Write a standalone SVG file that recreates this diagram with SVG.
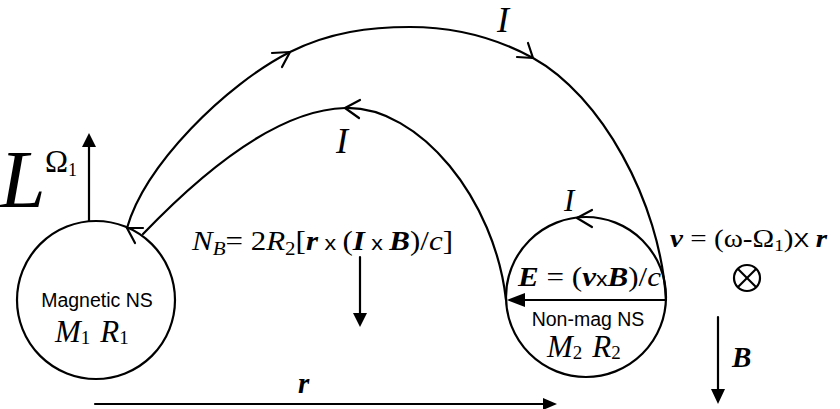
<svg xmlns="http://www.w3.org/2000/svg" width="840" height="409" viewBox="0 0 840 409">
<style>
.ln{fill:none;stroke:#000;stroke-width:2.2;stroke-linecap:round;stroke-linejoin:round}
.hd{fill:#000;stroke:none}
.ser{font-family:"Liberation Serif","Times New Roman",serif;fill:#000}
.it{font-style:italic}
.bi{font-style:italic;font-weight:bold}
.sans{font-family:"Liberation Sans",Arial,sans-serif;fill:#000}
</style>
<rect width="840" height="409" fill="#fff"/>
<g id="connectors">
  <path class="ln" d="M127,228 C145,165 225,85 290,52 C330,32 370,27 410,27 C460,27 500,40 533,58 C600,95 660,200 666,300"/>
  <path class="ln" d="M143,234 C190,185 270,110 345,108 C420,106 495,200 506,300"/>
  <polyline class="ln" points="272,53 290,52 282,67"/>
  <polyline class="ln" points="517,57 533,58 528,43"/>
  <polyline class="ln" points="360,100 345,108 359,118"/>
  <polyline class="ln" points="143,228 127,228 135,243"/>
  <polyline class="ln" points="592,210 577,218 592,227"/>
</g>
<g id="magnetic-ns">
  <circle class="ln" cx="96" cy="300" r="79"/>
  <text class="sans" x="97" y="307" font-size="19.5" text-anchor="middle">Magnetic NS</text>
  <text class="ser it" x="55" y="342" font-size="31">M<tspan font-size="19" font-style="normal" dy="2">1</tspan><tspan dx="10" dy="-2">R</tspan><tspan font-size="19" font-style="normal" dy="2">1</tspan></text>
</g>
<g id="nonmag-ns">
  <circle class="ln" cx="586" cy="297" r="80"/>
  <text class="sans" x="588" y="326" font-size="19.5" text-anchor="middle">Non-mag NS</text>
  <text class="ser it" x="547" y="357" font-size="31">M<tspan font-size="19" font-style="normal" dy="2">2</tspan><tspan dx="10" dy="-2">R</tspan><tspan font-size="19" font-style="normal" dy="2">2</tspan></text>
  <line class="ln" x1="666" y1="300" x2="522" y2="300"/>
  <polygon class="hd" points="507,300 525,293 525,307"/>
  <text class="ser" x="518" y="286" font-size="27" textLength="143" lengthAdjust="spacingAndGlyphs"><tspan class="bi">E</tspan> = (<tspan class="bi">v</tspan><tspan class="sans" font-size="20">x</tspan><tspan class="bi">B</tspan>)/<tspan class="it">c</tspan></text>
</g>
<g id="omega">
  <line class="ln" x1="89" y1="221" x2="89" y2="145"/>
  <polygon class="hd" points="89,133 82,147 96,147"/>
  <text class="ser" x="45" y="172" font-size="31">Ω<tspan font-size="18" dy="4">1</tspan></text>
</g>
<text class="ser it" x="0" y="207" font-size="82">L</text>
<text class="ser it" x="497" y="32" font-size="36">I</text>
<text class="ser it" x="336" y="153" font-size="36">I</text>
<text class="ser it" x="564" y="211" font-size="31">I</text>
<g id="torque">
  <text class="ser" x="192" y="250" font-size="28" textLength="261" lengthAdjust="spacingAndGlyphs"><tspan class="it">N</tspan><tspan class="it" font-size="19" dy="5">B</tspan><tspan dy="-5">= 2</tspan><tspan class="it">R</tspan><tspan font-size="19" dy="5">2</tspan><tspan dy="-5">[</tspan><tspan class="bi">r</tspan><tspan class="sans" font-size="21"> x </tspan>(<tspan class="bi">I</tspan><tspan class="sans" font-size="21"> x </tspan><tspan class="bi">B</tspan>)/<tspan class="it">c</tspan>]</text>
  <line class="ln" x1="360" y1="257" x2="360" y2="315"/>
  <polygon class="hd" points="360,327 353,313 367,313"/>
</g>
<g id="velocity">
  <text class="ser" x="670" y="247" font-size="26" textLength="157" lengthAdjust="spacingAndGlyphs"><tspan class="bi">v</tspan> = (ω-Ω<tspan font-size="17" dy="4">1</tspan><tspan dy="-4">)</tspan><tspan class="sans" font-size="21">X </tspan><tspan class="bi">r</tspan></text>
  <circle class="ln" cx="747" cy="278" r="13"/>
  <line class="ln" x1="738" y1="269" x2="756" y2="287"/>
  <line class="ln" x1="756" y1="269" x2="738" y2="287"/>
</g>
<g id="field">
  <line class="ln" x1="718" y1="317" x2="718" y2="392"/>
  <polygon class="hd" points="718,404 711,389 725,389"/>
  <text class="ser bi" x="732" y="367" font-size="29">B</text>
</g>
<g id="separation">
  <line class="ln" x1="95" y1="404" x2="545" y2="404"/>
  <polygon class="hd" points="557,404 543,398 543,410"/>
  <text class="ser bi" x="298" y="393" font-size="29">r</text>
</g>
</svg>
